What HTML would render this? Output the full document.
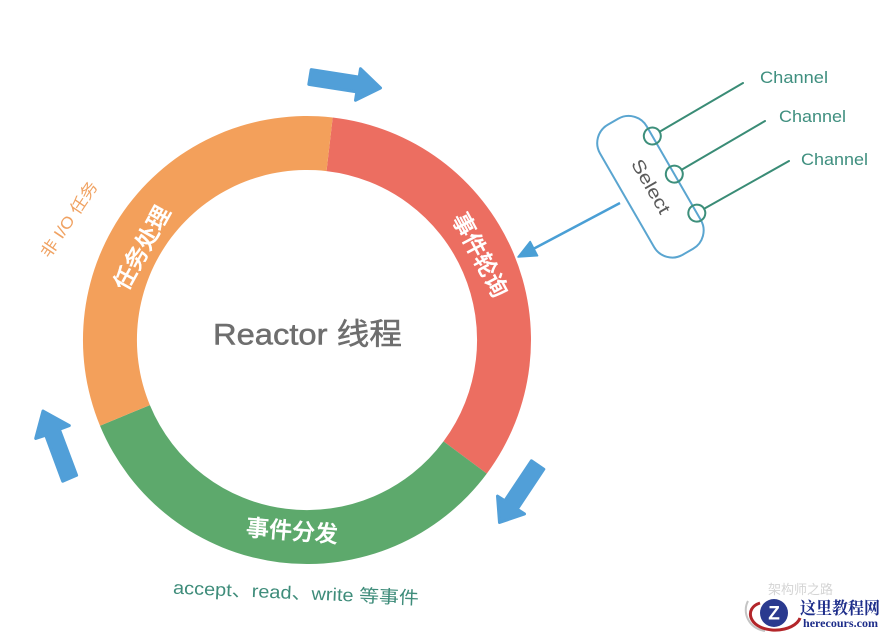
<!DOCTYPE html>
<html>
<head>
<meta charset="utf-8">
<style>
  html, body { margin: 0; padding: 0; background: #ffffff; }
  body { width: 889px; height: 635px; overflow: hidden; }
  svg { display: block; }
</style>
</head>
<body>
<svg width="889" height="635" viewBox="0 0 889 635" xmlns="http://www.w3.org/2000/svg">
  <rect x="0" y="0" width="889" height="635" fill="#ffffff"/>

  <!-- Ring segments -->
  <path d="M332.7,117.5 A224,224 0 0 1 486.8,473.6 L443.5,441.4 A170,170 0 0 0 326.5,171.1 Z" fill="#EC6E61"/>
  <path d="M486.8,473.6 A224,224 0 0 1 100,425.7 L149.9,405.1 A170,170 0 0 0 443.5,441.4 Z" fill="#5DA96C"/>
  <path d="M100,425.7 A224,224 0 0 1 332.7,117.5 L326.5,171.1 A170,170 0 0 0 149.9,405.1 Z" fill="#F3A05B"/>

  <!-- Ring labels -->
  <text x="142" y="248" transform="rotate(-61 142 248)" text-anchor="middle" dominant-baseline="central"
        font-family="'Liberation Sans','Noto Sans CJK SC',sans-serif" font-size="23" font-weight="500" fill="#ffffff" stroke="#ffffff" stroke-width="0.4">任务处理</text>
  <text x="480" y="255" transform="rotate(62 480 255)" text-anchor="middle" dominant-baseline="central"
        font-family="'Liberation Sans','Noto Sans CJK SC',sans-serif" font-size="23" font-weight="500" fill="#ffffff" stroke="#ffffff" stroke-width="0.4">事件轮询</text>
  <text x="292" y="531" transform="rotate(4.5 292 531)" text-anchor="middle" dominant-baseline="central"
        font-family="'Liberation Sans','Noto Sans CJK SC',sans-serif" font-size="23" font-weight="500" fill="#ffffff" stroke="#ffffff" stroke-width="0.4">事件分发</text>

  <!-- Center label -->
  <text x="307.5" y="335" text-anchor="middle" dominant-baseline="central" textLength="189" lengthAdjust="spacingAndGlyphs"
        font-family="'Liberation Sans','Noto Sans CJK SC',sans-serif" font-size="30" fill="#6E6E6E" stroke="#6E6E6E" stroke-width="0.5">Reactor 线程</text>

  <!-- Non-IO task label -->
  <text x="70" y="220" transform="rotate(-56 70 220)" text-anchor="middle" dominant-baseline="central" textLength="88" lengthAdjust="spacingAndGlyphs"
        font-family="'Liberation Sans','Noto Sans CJK SC',sans-serif" font-size="16" fill="#F0A262">非 I/O 任务</text>

  <!-- Blue block arrows -->
  <g fill="#519FD8" stroke="#519FD8" stroke-width="3" stroke-linejoin="round">
    <polygon points="311.2,69.6 359.2,77.1 360.5,68.7 380.5,88 355.5,100.3 356.8,91.9 308.8,84.4"/>
    <polygon points="62.7,481.2 45.7,435.2 35.7,438.4 43,411 69.3,425.6 59.3,429.3 76.6,475.3"/>
    <polygon points="531.4,460.8 504.8,500.8 497.5,496.1 499.5,522.5 524.5,513.9 517.2,509.2 543.8,469.2"/>
  </g>

  <!-- Select box -->
  <g transform="translate(650,187) rotate(60)">
    <rect x="-75" y="-27.5" width="150" height="54" rx="21" ry="21" fill="#ffffff" stroke="#5AA5D0" stroke-width="2"/>
    <text x="0" y="-1" text-anchor="middle" dominant-baseline="central" textLength="60" lengthAdjust="spacingAndGlyphs"
          font-family="'Liberation Sans',sans-serif" font-size="18" fill="#5a5a5a">Select</text>
    <circle cx="-43" cy="-27.5" r="8.5" fill="none" stroke="#3D8F7B" stroke-width="2"/>
    <circle cx="1" cy="-27.5" r="8.5" fill="none" stroke="#3D8F7B" stroke-width="2"/>
    <circle cx="46" cy="-27.5" r="8.5" fill="none" stroke="#3D8F7B" stroke-width="2"/>
  </g>

  <!-- Channel lines -->
  <g stroke="#3A8C76" stroke-width="2" fill="none" stroke-linecap="round">
    <line x1="659.6" y1="131.7" x2="743" y2="83"/>
    <line x1="681.6" y1="169.8" x2="765" y2="121"/>
    <line x1="704.1" y1="208.8" x2="789" y2="161"/>
  </g>

  <!-- Channel labels -->
  <g font-family="'Liberation Sans',sans-serif" font-size="17" fill="#3F8F7F">
    <text x="760" y="83" textLength="68" lengthAdjust="spacingAndGlyphs">Channel</text>
    <text x="779" y="122" textLength="67" lengthAdjust="spacingAndGlyphs">Channel</text>
    <text x="801" y="165" textLength="67" lengthAdjust="spacingAndGlyphs">Channel</text>
  </g>

  <!-- Arrow from Select to ring -->
  <line x1="620" y1="203" x2="532" y2="249.6" stroke="#4A9FD5" stroke-width="2.5"/>
  <polygon points="518,257 530.2,241.5 537.6,255.7" fill="#4A9FD5" stroke="#4A9FD5" stroke-width="1.5" stroke-linejoin="round"/>

  <!-- Bottom caption -->
  <text x="296" y="593" transform="rotate(2.5 296 593)" text-anchor="middle" dominant-baseline="central" textLength="246" lengthAdjust="spacingAndGlyphs"
        font-family="'Liberation Sans','Noto Sans CJK SC',sans-serif" font-size="18" fill="#3E8C7A">accept、read、write 等事件</text>

  <!-- Watermark -->
  <text x="768" y="594" font-family="'Liberation Sans','Noto Sans CJK SC',sans-serif" font-size="13" fill="#d4d4d4">架构师之路</text>
  <path d="M748,601 C742,612 748,628 765,631" fill="none" stroke="#c4c4c4" stroke-width="2"/>
  <path d="M760,603 C744,608 748,628 772,630 C788,631 798,624 800,618" fill="none" stroke="#B3262A" stroke-width="3"/>
  <circle cx="774" cy="613" r="14" fill="#2A3A8F"/>
  <text x="774" y="614" text-anchor="middle" dominant-baseline="central" font-family="'Liberation Sans',sans-serif" font-weight="bold" font-size="19" fill="#ffffff">Z</text>
  <text x="800" y="614" textLength="80" lengthAdjust="spacingAndGlyphs"
        font-family="'Liberation Serif','Noto Serif CJK SC',serif" font-weight="bold" font-size="17" fill="#1D2D8A">这里教程网</text>
  <text x="803" y="627" textLength="75" lengthAdjust="spacingAndGlyphs"
        font-family="'Liberation Serif',serif" font-weight="bold" font-size="12" fill="#1D2D8A">herecours.com</text>
</svg>
</body>
</html>
